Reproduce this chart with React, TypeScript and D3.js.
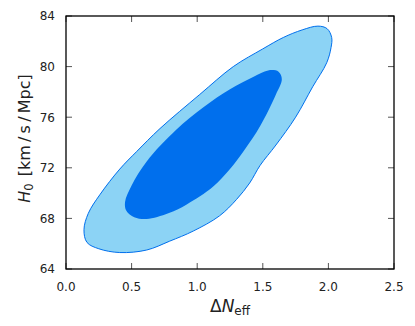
import React from "react";
import * as d3 from "d3";

const xTicks = [0.0, 0.5, 1.0, 1.5, 2.0, 2.5];
const yTicks = [64, 68, 72, 76, 80, 84];

// 95% contour (outer), [ΔNeff, H0]
const outerContour: [number, number][] = [
  [0.137, 67.1], [0.17, 68.4], [0.26, 69.9], [0.41, 71.9], [0.54, 73.3],
  [0.716, 75.1], [1.02, 77.8], [1.275, 80.0], [1.5, 81.4], [1.656, 82.3],
  [1.8, 82.9], [1.92, 83.2], [1.99, 83.0], [2.025, 82.3], [2.02, 81.5],
  [1.987, 80.3], [1.88, 78.4], [1.75, 76.0], [1.6, 73.8], [1.48, 72.2],
  [1.4, 70.8], [1.3, 69.5], [1.17, 68.2], [0.97, 67.0], [0.79, 66.2],
  [0.615, 65.5], [0.41, 65.3], [0.25, 65.6], [0.16, 66.1],
];

// 68% contour (inner)
const innerContour: [number, number][] = [
  [0.45, 69.3], [0.5, 70.6], [0.615, 72.5], [0.84, 75.0], [1.05, 76.8],
  [1.25, 78.2], [1.43, 79.2], [1.54, 79.7], [1.62, 79.6], [1.645, 79.0],
  [1.6, 77.8], [1.48, 75.3], [1.36, 73.4], [1.25, 71.9], [1.12, 70.5],
  [0.92, 69.1], [0.78, 68.4], [0.615, 67.95], [0.52, 68.1], [0.46, 68.6],
];

const W = 415, H = 326;
const m = { left: 66, right: 21, top: 16, bottom: 57 };
const font = "'DejaVu Sans', sans-serif";

export default function App() {
  const x = d3.scaleLinear().domain([0, 2.5]).range([m.left, W - m.right]);
  const y = d3.scaleLinear().domain([64, 84]).range([H - m.bottom, m.top]);
  const line = d3
    .line<[number, number]>()
    .x((d) => x(d[0]))
    .y((d) => y(d[1]))
    .curve(d3.curveCatmullRomClosed.alpha(0.5));
  const x0 = m.left, x1 = W - m.right, y0 = H - m.bottom, y1 = m.top;
  const tl = 6;
  return (
    <svg width={W} height={H} style={{ position: "absolute", left: 0, top: 0 }} fontFamily={font}>
      <rect x={0} y={0} width={W} height={H} fill="white" />
      <path d={line(outerContour) || ""} fill="#8CD3F5" stroke="#006FED" strokeWidth={1} />
      <path d={line(innerContour) || ""} fill="#006FED" stroke="none" />
      {xTicks.map((t) => (
        <g key={"x" + t}>
          <line x1={x(t)} x2={x(t)} y1={y0} y2={y0 - tl} stroke="#555" strokeWidth={1} />
          <line x1={x(t)} x2={x(t)} y1={y1} y2={y1 + tl} stroke="#555" strokeWidth={1} />
          <text x={x(t)} y={290.5} fontSize={12} textAnchor="middle" fill="#222">
            {t.toFixed(1)}
          </text>
        </g>
      ))}
      {yTicks.map((t) => (
        <g key={"y" + t}>
          <line x1={x0} x2={x0 + tl} y1={y(t)} y2={y(t)} stroke="#555" strokeWidth={1} />
          <line x1={x1} x2={x1 - tl} y1={y(t)} y2={y(t)} stroke="#555" strokeWidth={1} />
          <text x={55} y={y(t)} dy="0.36em" fontSize={12} textAnchor="end" fill="#222">
            {t}
          </text>
        </g>
      ))}
      <rect x={x0} y={y1} width={x1 - x0} height={y0 - y1} fill="none" stroke="#000" strokeWidth={1.3} />
      <text x={(x0 + x1) / 2} y={312} fontSize={17} textAnchor="middle" fill="#222">
        Δ<tspan fontStyle="italic">N</tspan>
        <tspan fontSize={12} dy={3}>eff</tspan>
      </text>
      <text
        transform={`translate(30,${(y0 + y1) / 2 - 4}) rotate(-90)`}
        fontSize={16}
        textAnchor="middle"
        fill="#222"
      >
        <tspan fontStyle="italic">H</tspan>
        <tspan fontSize={11.5} dy={3}>0</tspan>
        <tspan dy={-3} dx={2}>{" [km\u2009/\u2009s\u2009/\u2009Mpc]"}</tspan>
      </text>
    </svg>
  );
}
